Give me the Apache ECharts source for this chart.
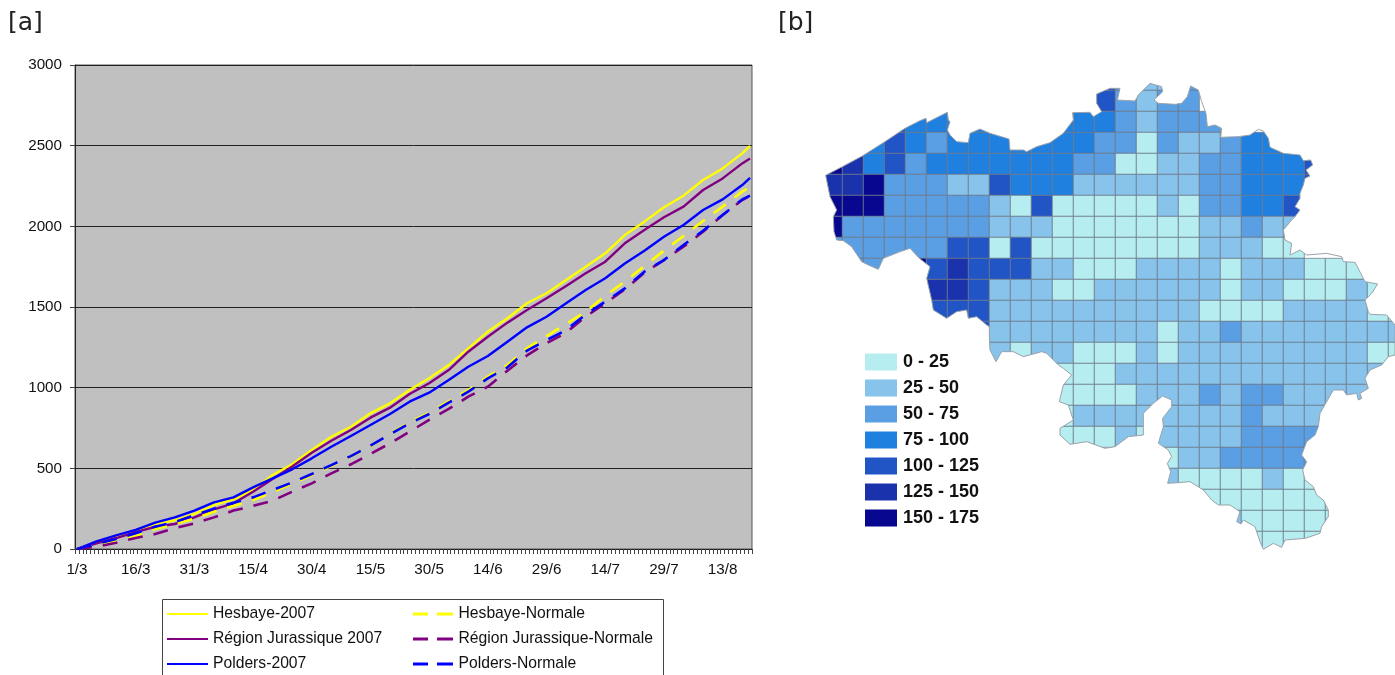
<!DOCTYPE html>
<html>
<head>
<meta charset="utf-8">
<style>html,body{margin:0;padding:0;background:#fff;overflow:hidden}#c{width:1395px;height:675px}</style>
<script src="https://cdn.jsdelivr.net/npm/echarts@6/dist/echarts.min.js"></script>
</head>
<body>
<div id="c"></div>
<script>
// ---------- line chart data ----------
const monthLengths = [[3, 31], [4, 30], [5, 31], [6, 30], [7, 31], [8, 20]];
const sampleDays = [0,5,10,15,20,25,30,35,40,45,50,55,60,65,70,75,80,85,90,95,100,105,110,115,120,125,130,135,140,145,150,155,160,165,170,172];
const hesbaye2007 = [0,41,76,101,155,178,217,273,308,366,459,525,614,696,758,841,903,985,1058,1140,1244,1347,1430,1523,1585,1667,1750,1833,1946,2029,2118,2190,2287,2359,2452,2498];
const jurassique2007 = [0,35,68,105,138,155,196,246,283,355,434,512,597,671,738,814,876,961,1027,1109,1223,1316,1403,1481,1554,1630,1709,1781,1895,1977,2056,2122,2225,2297,2390,2421];
const polders2007 = [0,47,85,118,163,196,238,289,320,382,438,494,562,634,700,769,837,913,969,1047,1130,1196,1285,1374,1440,1523,1605,1678,1770,1849,1936,2008,2101,2167,2256,2301];
const hesbayeNormale = [0,25,54,81,124,155,188,231,267,304,353,405,458,515,575,638,714,785,845,915,985,1068,1140,1245,1320,1395,1471,1570,1657,1754,1849,1940,2033,2122,2215,2246];
const jurassiqueNormale = [0,14,39,68,93,130,159,196,238,267,300,355,407,469,525,589,655,727,800,868,944,1006,1105,1200,1275,1341,1440,1523,1609,1713,1791,1874,1967,2070,2163,2190];
const poldersNormale = [0,31,62,97,138,167,209,250,287,320,366,412,465,520,576,640,711,779,837,907,975,1058,1126,1230,1295,1357,1454,1533,1615,1719,1791,1884,1973,2070,2167,2190];

// ---------- map data: [first column, classes left to right], one entry per grid row ----------
const classLabels = ['0 - 25','25 - 50','50 - 75','75 - 100','100 - 125','125 - 150','150 - 175'];
const classColors = ['#b5edf0','#87c3ea','#5a9fe3','#1f80e0','#2155c6','#1a33ad','#07078f'];
const mapRows = [
  [13,[4,2,1,1,2]],
  [13,[4,2,1,2,2]],
  [3,[4,3,3,3,3,3,3,3,3,3,3,2,1,2,2,2]],
  [2,[3,4,3,2,3,3,3,3,3,3,3,2,2,0,2,1,1,2,3,3,3]],
  [0,[6,5,3,4,2,3,3,3,3,3,3,3,2,2,0,0,1,1,2,2,3,3,3,4]],
  [0,[5,5,6,2,2,2,1,1,4,3,3,3,1,1,1,1,1,1,2,2,3,3,3,4]],
  [0,[6,6,6,2,2,2,2,2,1,0,4,0,0,0,0,0,1,0,2,2,3,3,4]],
  [0,[6,2,2,2,2,2,2,2,1,1,1,0,0,0,0,0,0,0,1,1,2,1,1]],
  [0,[2,2,2,2,2,2,4,4,0,4,0,0,0,0,0,0,0,0,1,1,1,0,0]],
  [1,[2,2,2,6,4,5,4,4,4,1,1,0,0,0,1,1,1,1,0,1,1,1,0,0,0]],
  [5,[5,5,4,1,1,1,0,0,1,1,1,1,1,1,0,1,1,0,0,0,1,0]],
  [5,[4,4,4,1,1,1,1,1,1,1,1,1,1,0,0,0,0,1,1,1,1,0,0]],
  [7,[4,1,1,1,1,1,1,1,1,0,1,1,2,1,1,1,1,1,1,1,1]],
  [8,[1,0,1,1,0,0,0,1,0,1,1,1,1,1,1,1,1,1,0,0]],
  [11,[0,0,0,1,1,1,1,1,1,1,1,1,1,1,1,1]],
  [11,[0,0,0,0,1,1,1,2,1,2,2,1,1,1,1]],
  [11,[0,1,1,1,1,1,1,1,1,2,1,1,1]],
  [11,[0,0,0,1,0,1,1,1,1,2,2,2,2]],
  [16,[0,1,1,2,2,2,2,2]],
  [16,[1,0,0,0,0,1,0,0]],
  [17,[0,0,0,0,0,0,0,0]],
  [18,[0,1,0,0,0,0,0]],
  [20,[0,0,0,0]]
];
const borderWest = [[47,316],[97,290],[157,258],[222,217],[285,175],[330,152],[348,145],[350,158],[412,127],[415,150],[420,155],[412,180],[420,195],[440,215],[475,218],[480,190],[510,177],[540,190],[597,207],[600,240],[640,240],[650,245],[680,230],[720,218],[760,190],[790,150],[788,128],[840,127],[850,140],[875,125],[860,100],[860,72],[900,55]];
const borderEast = [[45,55],[60,55],[52,90],[105,93],[115,75],[150,40],[185,50],[188,65],[162,90],[175,100],[225,103],[245,100],[262,80],[272,48],[295,60],[305,95],[318,130],[322,170],[345,165],[365,175],[362,202],[415,200],[450,195],[475,178],[490,183],[505,205],[510,232],[550,250],[600,255],[610,272],[632,270],[638,285],[618,300],[630,318],[615,325],[610,345],[600,370],[600,385],[585,410],[600,420],[585,440],[575,450],[550,480],[555,510],[575,520],[570,555],[600,540],[620,555],[680,550],[725,560],[730,575],[765,577],[795,635],[833,642],[815,670],[795,690],[805,725],[810,733],[860,735],[885,765]];
const borderSouth = [[1245,165],[1225,170],[1205,195],[1170,210],[1155,235],[1165,265],[1140,280],[1145,295],[1135,300],[1130,280],[1100,285],[1090,270],[1060,270],[1040,305],[1020,340],[1015,380],[1005,405],[980,425],[965,465],[980,485],[968,510],[975,540],[1000,560],[1010,585],[1030,600],[1045,630],[1045,650],[1025,680],[1020,700],[975,715],[915,720],[905,742],[880,730],[850,748],[840,725],[825,680],[790,660],[783,672],[770,665],[780,635],[750,615],[715,615],[695,600],[670,570],[630,545],[595,548],[563,550],[572,515],[562,490],[575,470],[565,450],[535,430],[550,380],[548,355],[575,320],[575,300],[548,288],[520,310],[490,340],[490,405],[445,410],[405,440],[375,445],[320,425],[270,433],[240,405],[240,385],[280,360],[265,315],[238,305],[250,255],[275,225],[250,205],[235,195],[200,160],[185,155],[130,170],[100,155],[65,155],[48,185],[30,150],[28,110]];
const borderSouthWest = [[538,770],[530,765],[500,740],[475,745],[470,720],[440,725],[410,745],[370,720],[365,690],[350,625],[360,590],[328,565],[300,535],[270,545],[220,565],[205,598],[175,585],[155,575],[125,530],[100,512],[80,510],[72,485],[70,440],[80,420],[60,380]];

// ---------- derived ----------
const dayLabels = [];
monthLengths.forEach(([m, n]) => { for (let d = 1; d <= n; d++) dayLabels.push(d + '/' + m); });
const pairs = vals => sampleDays.map((d, i) => [d, vals[i]]);
const border = [].concat(
  borderWest,
  borderEast.map(p => [p[0] + 870, p[1]]),
  borderSouth.map(p => [p[0] + 510, p[1] + 690]),
  borderSouthWest
);
const cells = [];
mapRows.forEach(([start, vals], r) => vals.forEach((v, i) => cells.push([start + i, r, v])));
const CELL = 63, X0 = 34, Y0 = -2, MAXX = 1755, MAXY = 1470, MASK_TOP = -30;

const font = 'Liberation Sans';
const lineSeries = (name, vals, color, dashed) => ({
  name, type: 'line', xAxisIndex: 0, yAxisIndex: 0, data: pairs(vals),
  symbol: 'none', smooth: false, animation: false, clip: true,
  lineStyle: { color, width: dashed ? 2.6 : 2.4, type: dashed ? [15, 11] : 'solid' },
  itemStyle: { color }
});
const legendCommon = {
  orient: 'vertical', itemWidth: 41, selectedMode: false, padding: 0,
  textStyle: { fontFamily: font, fontSize: 15.7, color: '#111' }
};
const solidIcon = 'path://M0 0H41V2H0Z';
const dashIcon = 'path://M0 0H15V3H0ZM24 0H40V3H24Z';

const chart = echarts.init(document.getElementById('c'), null, { renderer: 'canvas' });
chart.setOption({
  animation: false,
  backgroundColor: '#fff',
  title: [
    { text: '[a]', left: 8, top: 11, padding: 0, textStyle: { fontFamily: 'DejaVu Sans', fontWeight: 'normal', fontSize: 25, color: '#222' } },
    { text: '[b]', left: 778, top: 11, padding: 0, textStyle: { fontFamily: 'DejaVu Sans', fontWeight: 'normal', fontSize: 25, color: '#222' } }
  ],
  grid: [
    { left: 75, top: 65, width: 677, height: 484, show: true, backgroundColor: '#c0c0c0', borderColor: '#555', borderWidth: 1 },
    { left: 810, top: 70, width: 585, height: 490, show: false }
  ],
  xAxis: [
    { type: 'category', gridIndex: 0, data: dayLabels, boundaryGap: true,
      axisLine: { show: true, lineStyle: { color: '#222' } },
      axisTick: { show: true, interval: 0, length: 5, lineStyle: { color: '#444' } },
      axisLabel: { interval: 14, hideOverlap: false, fontFamily: font, fontSize: 15.2, color: '#111', margin: 13 },
      splitLine: { show: false } },
    { type: 'value', gridIndex: 1, min: 0, max: MAXX, show: false, splitLine: { show: false } }
  ],
  yAxis: [
    { type: 'value', gridIndex: 0, min: 0, max: 3000, interval: 500,
      axisLine: { show: true, lineStyle: { color: '#222' } },
      axisTick: { show: true, length: 5, lineStyle: { color: '#444' } },
      axisLabel: { formatter: v => String(v), fontFamily: font, fontSize: 15.2, color: '#111', margin: 13 },
      splitLine: { show: true, lineStyle: { color: '#222', width: 1 } } },
    { type: 'value', gridIndex: 1, min: 0, max: MAXY, inverse: true, show: false, splitLine: { show: false } }
  ],
  legend: [
    Object.assign({}, legendCommon, { left: 167, top: 606, itemHeight: 2, itemGap: 9, icon: solidIcon,
      data: ['Hesbaye-2007', 'Région Jurassique 2007', 'Polders-2007'] }),
    Object.assign({}, legendCommon, { left: 413, top: 606, itemHeight: 3, itemGap: 9, icon: dashIcon,
      data: ['Hesbaye-Normale', 'Région Jurassique-Normale', 'Polders-Normale'] })
  ],
  visualMap: {
    type: 'piecewise', seriesIndex: 6, dimension: 2, inverse: true, orient: 'vertical',
    left: 865, top: 353, itemWidth: 32, itemHeight: 17, itemGap: 8, itemSymbol: 'rect', textGap: 6, padding: 0, align: 'left',
    hoverLink: false, selectedMode: false,
    textStyle: { fontFamily: font, fontWeight: 'bold', fontSize: 18, color: '#111' },
    pieces: classLabels.map((label, i) => ({ value: i, label, color: classColors[i] }))
  },
  graphic: [
    { type: 'rect', z: 0, silent: true, shape: { x: 162.5, y: 599.5, width: 501, height: 120 }, style: { fill: 'none', stroke: '#444', lineWidth: 1 } }
  ],
  series: [
    lineSeries('Hesbaye-2007', hesbaye2007, '#ffff00'),
    lineSeries('Région Jurassique 2007', jurassique2007, '#800080'),
    lineSeries('Polders-2007', polders2007, '#0000ff'),
    lineSeries('Hesbaye-Normale', hesbayeNormale, '#ffff00', true),
    lineSeries('Région Jurassique-Normale', jurassiqueNormale, '#800080', true),
    lineSeries('Polders-Normale', poldersNormale, '#0000ff', true),
    {
      type: 'custom', xAxisIndex: 1, yAxisIndex: 1, data: cells, clip: false, z: 2,
      encode: { x: 0, y: 1 }, silent: true,
      renderItem(params, api) {
        const c = api.value(0), r = api.value(1);
        const a = api.coord([X0 + c * CELL, Y0 + r * CELL]);
        const b = api.coord([X0 + (c + 1) * CELL, Y0 + (r + 1) * CELL]);
        return { type: 'rect', shape: { x: a[0], y: a[1], width: b[0] - a[0], height: b[1] - a[1] },
          style: { fill: api.visual('color'), stroke: 'rgba(105,118,135,0.72)', lineWidth: 1 } };
      }
    },
    {
      type: 'custom', xAxisIndex: 1, yAxisIndex: 1, data: [[0, 0]], clip: false, z: 3, silent: true,
      encode: { x: 0, y: 1 },
      renderItem(params, api) {
        const line = border.map(p => api.coord(p));
        const rev = line.slice().reverse();
        const corners = [[0, MASK_TOP], [MAXX, MASK_TOP], [MAXX, MAXY], [0, MAXY], [0, MASK_TOP]].map(p => api.coord(p));
        return { type: 'group', children: [
          { type: 'polygon', shape: { points: corners.concat(rev, [rev[0]]) }, style: { fill: '#fff', stroke: null } },
          { type: 'polygon', shape: { points: line }, style: { fill: 'none', stroke: '#9aa3ab', lineWidth: 1 } }
        ] };
      }
    }
  ]
});
</script>
</body>
</html>
